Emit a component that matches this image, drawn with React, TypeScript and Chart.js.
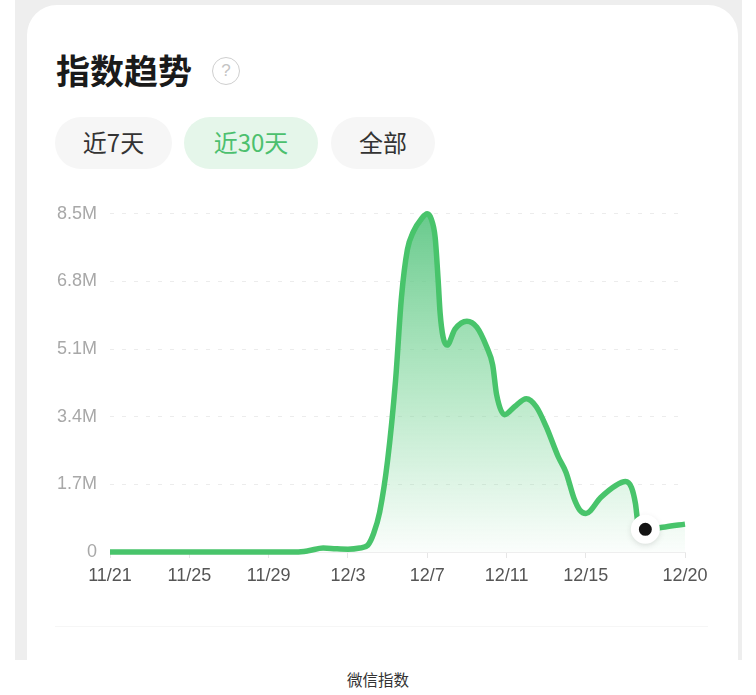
import React, { useEffect, useRef } from 'react';
import Chart from 'chart.js/auto';

const FONT = '"Liberation Sans", "Noto Sans CJK SC", sans-serif';
const CJK = '"Noto Sans CJK SC", "Liberation Sans", sans-serif';

// days since 11/21, the curve is sampled finer than daily around the peaks
const days = [0, 9.4, 10, 10.75, 11.4, 12, 12.6, 13, 13.3, 13.6, 14, 14.4, 14.7, 15, 15.3, 15.7, 16, 16.2, 16.4, 16.55, 16.65, 16.8, 17, 17.4, 18, 18.5, 19, 19.3, 19.5, 19.9, 20.4, 21, 21.5, 22, 22.6, 23, 23.4, 23.7, 24, 24.75, 25.5, 26, 26.3, 26.5, 26.65, 27, 28, 29];
const values = [0, 0, 0.03, 0.1, 0.08, 0.07, 0.1, 0.17, 0.47, 1.0, 2.3, 4.3, 6.4, 7.6, 8.05, 8.37, 8.5, 8.37, 7.9, 6.83, 6.0, 5.4, 5.2, 5.6, 5.8, 5.65, 5.15, 4.7, 3.95, 3.45, 3.65, 3.85, 3.65, 3.15, 2.4, 2.0, 1.35, 1.05, 0.97, 1.37, 1.67, 1.77, 1.62, 1.22, 0.67, 0.57, 0.63, 0.7];

const tickDays = [0, 4, 8, 12, 16, 20, 24, 29];
const tickLabels = ['11/21', '11/25', '11/29', '12/3', '12/7', '12/11', '12/15', '12/20'];
const yTicks = [0, 1.7, 3.4, 5.1, 6.8, 8.5];
const yLabels = ['0', '1.7M', '3.4M', '5.1M', '6.8M', '8.5M'];
const markerDay = 27;
const markerValue = 0.57;

const ranges = ['近7天', '近30天', '全部'];

const haloShadow = {
  id: 'haloShadow',
  beforeDatasetDraw(chart: any, args: any) {
    if (args.index !== 0) return;
    chart.ctx.save();
    chart.ctx.shadowColor = 'rgba(0,0,0,0.10)';
    chart.ctx.shadowBlur = 6;
    chart.ctx.shadowOffsetY = 2;
  },
  afterDatasetDraw(chart: any, args: any) {
    if (args.index === 0) chart.ctx.restore();
  },
};

const pillStyle: React.CSSProperties = {
  position: 'absolute',
  top: 117,
  height: 52,
  lineHeight: '50px',
  borderRadius: 26,
  textAlign: 'center',
  fontSize: 24,
  fontFamily: CJK,
};
const pillBoxes = [
  { left: 55, width: 117, background: '#f6f6f6', color: '#333' },
  { left: 184, width: 134, background: '#e5f6ea', color: '#4cc06e' },
  { left: 331, width: 104, background: '#f6f6f6', color: '#333' },
];

const App: React.FC = () => {
  const canvasRef = useRef<HTMLCanvasElement>(null);

  useEffect(() => {
    if (!canvasRef.current) return;
    const chart = new Chart(canvasRef.current, {
      type: 'line',
      plugins: [haloShadow],
      data: {
        datasets: [
          {
            data: [{ x: markerDay, y: markerValue }],
            showLine: false,
            pointRadius: 10.5,
            pointBorderWidth: 8,
            pointBackgroundColor: '#151515',
            pointBorderColor: '#ffffff',
            clip: false,
          },
          {
            data: days.map((d, i) => ({ x: d, y: values[i] })),
            borderColor: '#48c46b',
            borderWidth: 5.5,
            cubicInterpolationMode: 'monotone',
            pointRadius: 0,
            fill: 'origin',
            clip: false,
            backgroundColor: (ctx: any) => {
              const area = ctx.chart.chartArea;
              if (!area) return 'transparent';
              const g = ctx.chart.ctx.createLinearGradient(0, area.top, 0, area.bottom);
              g.addColorStop(0, 'rgba(88,196,128,0.9)');
              g.addColorStop(0.5, 'rgba(120,212,150,0.55)');
              g.addColorStop(1, 'rgba(120,212,150,0.03)');
              return g;
            },
          },
        ] as any,
      },
      options: {
        animation: false,
        responsive: false,
        layout: { padding: { top: 21, right: 42, left: 0, bottom: 0 } },
        plugins: { legend: { display: false }, tooltip: { enabled: false } },
        scales: {
          x: {
            type: 'linear',
            min: 0,
            max: 29,
            afterBuildTicks: (scale: any) => {
              scale.ticks = tickDays.map(v => ({ value: v }));
            },
            afterFit: (scale: any) => {
              scale.height = 48;
            },
            grid: { drawOnChartArea: false, color: '#e6e6e6', tickLength: 6 },
            border: { color: '#eeeeee' },
            ticks: {
              autoSkip: false,
              maxRotation: 0,
              color: '#555555',
              padding: 7,
              font: { family: FONT, size: 18 },
              callback: (v: any) => tickLabels[tickDays.indexOf(v)],
            },
          },
          y: {
            min: 0,
            max: 8.5,
            afterBuildTicks: (scale: any) => {
              scale.ticks = yTicks.map(v => ({ value: v }));
            },
            afterFit: (scale: any) => {
              scale.width = 83;
            },
            grid: { color: '#ececec', drawTicks: false },
            border: { display: false, dash: [4, 8] },
            ticks: {
              color: '#a8a8a8',
              padding: 13,
              font: { family: FONT, size: 18 },
              callback: (v: any) => yLabels[yTicks.indexOf(v)],
            },
          },
        },
      },
    });
    return () => chart.destroy();
  }, []);

  return (
    <div style={{ position: 'absolute', left: 0, top: 0, width: 756, height: 695, background: '#fff', overflow: 'hidden' }}>
      <div style={{ position: 'absolute', left: 15, top: 0, width: 727, height: 660, background: '#eeeeee' }} />
      <div style={{ position: 'absolute', left: 27, top: 5, width: 711, height: 655, background: '#fff', borderRadius: '30px 30px 0 0' }} />
      <div style={{ position: 'absolute', left: 56, top: 46, fontSize: 34, lineHeight: '48px', fontWeight: 700, fontFamily: CJK, color: '#1a1a1a' }}>指数趋势</div>
      <div style={{ position: 'absolute', left: 212, top: 57, width: 26, height: 26, lineHeight: '26px', border: '1.5px solid #cfcfcf', borderRadius: '50%', textAlign: 'center', fontSize: 17, fontFamily: FONT, color: '#c4c4c4' }}>?</div>
      {ranges.map((r, i) => (
        <div key={r} style={{ ...pillStyle, ...pillBoxes[i] }}>{r}</div>
      ))}
      <canvas ref={canvasRef} width={700} height={410} style={{ position: 'absolute', left: 27, top: 190, width: 700, height: 410 }} />
      <div style={{ position: 'absolute', left: 55, top: 626, width: 653, height: 1, background: '#f6f6f6' }} />
      <div style={{ position: 'absolute', left: 0, top: 669, width: 756, textAlign: 'center', fontSize: 15.5, lineHeight: '20px', fontFamily: CJK, color: '#333' }}>微信指数</div>
    </div>
  );
};

export default App;
